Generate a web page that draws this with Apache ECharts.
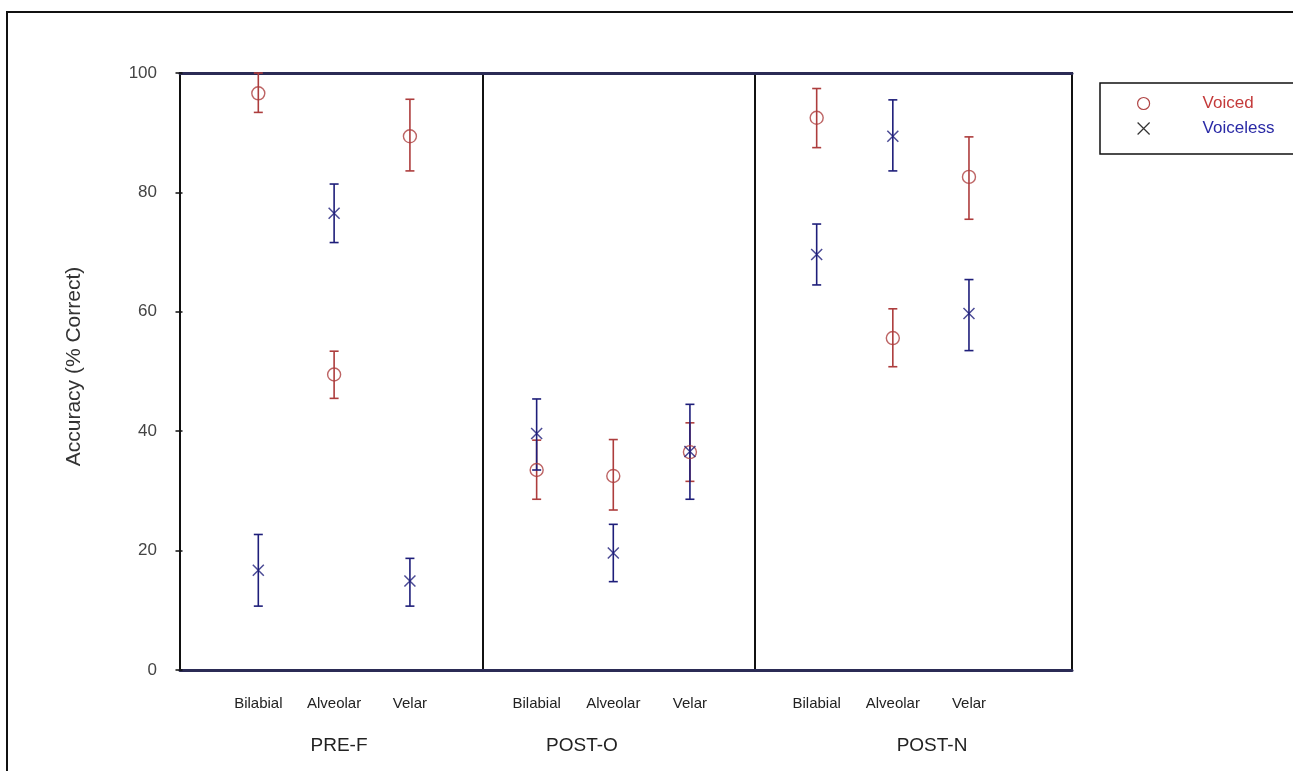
<!DOCTYPE html>
<html>
<head>
<meta charset="utf-8">
<script src="https://cdn.jsdelivr.net/npm/echarts@6/dist/echarts.min.js"></script>
<style>
  html, body { margin: 0; padding: 0; background: #fff; }
  #chart { width: 1293px; height: 771px; }
</style>
</head>
<body>
<div id="chart"></div>
<script>
// categories and panels
const categories = ['Bilabial', 'Alveolar', 'Velar'];
const panels = ['PRE-F', 'POST-O', 'POST-N'];

// values per panel, in category order
const voicedMean = [[96.6, 49.5, 89.4], [33.5, 32.5, 36.5], [92.5, 55.6, 82.6]];
const voicedLow = [[93.4, 45.5, 83.6], [28.6, 26.8, 31.6], [87.5, 50.8, 75.5]];
const voicedHigh = [[100, 53.4, 95.6], [38.5, 38.6, 41.4], [97.4, 60.5, 89.3]];
const voicelessMean = [[16.7, 76.5, 14.9], [39.6, 19.6, 36.6], [69.6, 89.4, 59.7]];
const voicelessLow = [[10.7, 71.6, 10.7], [33.5, 14.8, 28.6], [64.5, 83.6, 53.5]];
const voicelessHigh = [[22.7, 81.4, 18.7], [45.4, 24.4, 44.5], [74.7, 95.5, 65.4]];

const RED = '#ad3d3d';
const BLUE = '#1e1e7a';
const CROSS = 'path://M0,0L10,10M10,0L0,10';
const FONT = 'Liberation Sans, Arial, sans-serif';

const chart = echarts.init(document.getElementById('chart'), null, { renderer: 'canvas' });

// panel boxes and x ranges
const gridBoxes = [
  { left: 180, width: 303, min: -0.033, max: 3.964, pad: [0, 0, 0, 15] },
  { left: 483, width: 272, min: 0.30, max: 3.849, pad: [0, 74, 0, 0] },
  { left: 755, width: 317, min: 0.19, max: 4.353, pad: [0, 0, 0, 37] }
];

function errorBars(name, p, lows, highs, color) {
  return {
    type: 'custom',
    name: name,
    xAxisIndex: p,
    yAxisIndex: p,
    silent: true,
    z: 2,
    data: categories.map((c, i) => [i + 1, lows[i], highs[i]]),
    encode: { x: 0, y: [1, 2] },
    renderItem(params, api) {
      const x = api.value(0);
      const lo = api.coord([x, api.value(1)]);
      const hi = api.coord([x, api.value(2)]);
      const w = 4.5;
      const st = { stroke: color, lineWidth: 1.6 };
      return {
        type: 'group',
        children: [
          { type: 'line', shape: { x1: lo[0], y1: lo[1], x2: hi[0], y2: hi[1] }, style: st },
          { type: 'line', shape: { x1: lo[0] - w, y1: lo[1], x2: lo[0] + w, y2: lo[1] }, style: st },
          { type: 'line', shape: { x1: hi[0] - w, y1: hi[1], x2: hi[0] + w, y2: hi[1] }, style: st }
        ]
      };
    }
  };
}

const grids = [], xAxes = [], yAxes = [], series = [];
gridBoxes.forEach((g, p) => {
  grids.push({
    left: g.left, top: 73, width: g.width, height: 597,
    show: true, borderColor: '#111', borderWidth: 2, backgroundColor: 'transparent',
    outerBoundsMode: 'none', containLabel: false
  });
  xAxes.push({
    type: 'value', gridIndex: p, min: g.min, max: g.max,
    axisLine: { show: true, lineStyle: { color: '#2b2b55', width: 3 } },
    axisTick: { show: false },
    splitLine: { show: false },
    axisLabel: {
      customValues: [1, 2, 3],
      formatter: v => categories[Math.round(v) - 1] || '',
      color: '#222', fontSize: 15, fontFamily: FONT, margin: 26
    },
    name: panels[p], nameLocation: 'middle', nameGap: 66,
    nameTextStyle: { color: '#222', fontSize: 19, fontFamily: FONT, padding: g.pad }
  });
  yAxes.push({
    type: 'value', gridIndex: p, min: 0, max: 100, interval: 20,
    show: p === 0,
    axisLine: { show: false },
    axisTick: { show: true, inside: false, length: 7, lineStyle: { color: '#111', width: 1.5 } },
    splitLine: { show: false },
    axisLabel: { color: '#444', fontSize: 17, fontFamily: FONT, margin: 23 },
    name: p === 0 ? 'Accuracy (% Correct)' : '',
    nameLocation: 'middle', nameGap: 95,
    nameTextStyle: { color: '#333', fontSize: 21, fontFamily: FONT, padding: [0, 0, 0, 10] }
  });
  series.push(errorBars('Voiced', p, voicedLow[p], voicedHigh[p], RED));
  series.push(errorBars('Voiceless', p, voicelessLow[p], voicelessHigh[p], BLUE));
  series.push({
    type: 'scatter', name: 'Voiced', xAxisIndex: p, yAxisIndex: p, z: 3,
    symbol: 'circle', symbolSize: 13,
    itemStyle: { color: 'rgba(0,0,0,0)', borderColor: RED, borderWidth: 1.4 },
    data: categories.map((c, i) => [i + 1, voicedMean[p][i]])
  });
  series.push({
    type: 'scatter', name: 'Voiceless', xAxisIndex: p, yAxisIndex: p, z: 3,
    symbol: CROSS, symbolSize: 11,
    itemStyle: { color: 'rgba(0,0,0,0)', borderColor: BLUE, borderWidth: 1.5 },
    data: categories.map((c, i) => [i + 1, voicelessMean[p][i]])
  });
});

// top edge of the plot is drawn heavier
gridBoxes.forEach((g, p) => {
  xAxes.push({
    type: 'value', gridIndex: p, position: 'top', min: g.min, max: g.max,
    axisLine: { show: true, lineStyle: { color: '#2b2b55', width: 3 } },
    axisTick: { show: false }, axisLabel: { show: false }, splitLine: { show: false }
  });
});

chart.setOption({
  backgroundColor: '#fff',
  animation: false,
  textStyle: { fontFamily: FONT },
  grid: grids,
  xAxis: xAxes,
  yAxis: yAxes,
  legend: {
    orient: 'vertical', left: 1100, top: 83,
    padding: [12, 80, 17, 37],
    itemGap: 8, itemWidth: 12, itemHeight: 12,
    borderColor: '#111', borderWidth: 1.5, backgroundColor: '#fff',
    selectedMode: false,
    textStyle: { fontSize: 17, fontFamily: FONT, padding: [0, 0, 0, 48] },
    data: [
      { name: 'Voiced', icon: 'circle',
        itemStyle: { color: 'rgba(0,0,0,0)', borderColor: '#b04444', borderWidth: 1.2 },
        textStyle: { color: '#c43a3a' } },
      { name: 'Voiceless', icon: CROSS,
        itemStyle: { color: 'rgba(0,0,0,0)', borderColor: '#333', borderWidth: 1.2 },
        textStyle: { color: '#2a2aa6' } }
    ]
  },
  graphic: [{
    type: 'rect', silent: true, z: -1,
    shape: { x: 7, y: 12, width: 1400, height: 900 },
    style: { fill: 'none', stroke: '#111', lineWidth: 2 }
  }],
  series: series
});
</script>
</body>
</html>
